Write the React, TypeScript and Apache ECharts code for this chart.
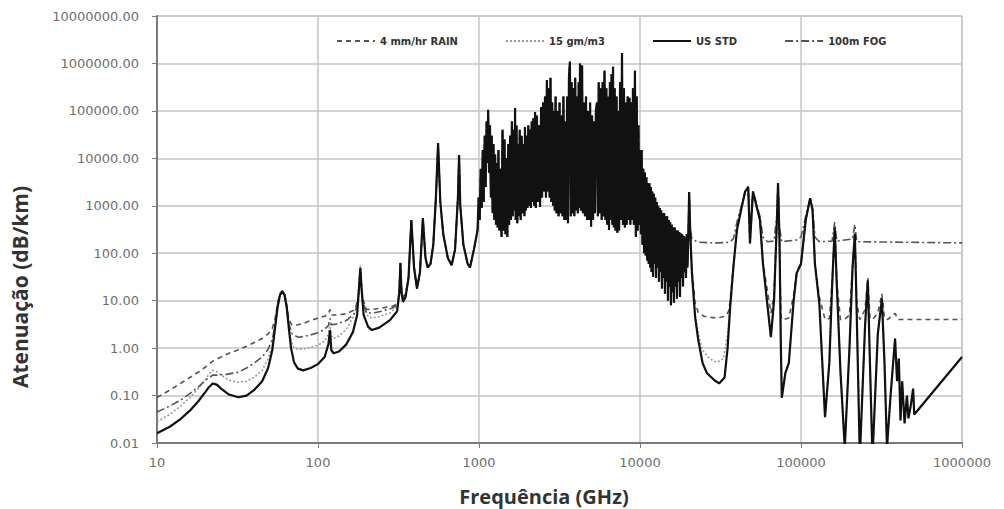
import React, { useEffect, useRef } from "react";
import * as echarts from "echarts";

const seriesNames = ["4 mm/hr RAIN", "15 gm/m3", "US STD", "100m FOG"];
const xTickLabels = ["10", "100", "1000", "10000", "100000", "1000000"];
const yTickLabels = ["0.01", "0.10", "1.00", "10.00", "100.00", "1000.00", "10000.00", "100000.00", "1000000.00", "10000000.00"];

// US standard atmosphere (frequency GHz, attenuation dB/km)
const usStd: number[][] = [
  [10, 0.016], [12, 0.022], [14, 0.032], [16, 0.048], [18, 0.075], [20, 0.12], [21, 0.15], [22.2, 0.18], [23.5, 0.17],
  [25, 0.14], [28, 0.105], [32, 0.092], [36, 0.1], [40, 0.13], [45, 0.2], [49, 0.38], [52, 0.9], [54, 2.5], [56, 7],
  [58, 13], [60, 15.5], [62, 13], [64, 7], [66, 2.5], [68, 1.0], [71, 0.5], [75, 0.37], [81, 0.34], [90, 0.38],
  [100, 0.46], [110, 0.65], [116, 1.2], [118.7, 2.4], [121, 0.9], [125, 0.78], [135, 0.85], [150, 1.2], [165, 2.2],
  [175, 5], [180, 20], [183.3, 48], [186, 20], [192, 5], [205, 2.8], [216, 2.4], [240, 2.7], [280, 3.9], [310, 6],
  [320, 15], [325, 62], [330, 15], [337, 9.4], [350, 12], [365, 30], [380, 500], [395, 50], [412, 18], [430, 40],
  [448, 550], [465, 80], [480, 50], [500, 60], [520, 150], [540, 1500], [557, 21000], [575, 1200], [600, 250],
  [640, 80], [676, 56], [710, 120], [740, 1500], [752, 11700], [765, 1000], [800, 150], [850, 60], [879, 50],
  [930, 120], [980, 310],
  [995, 1500], [1010, 500], [1025, 6000], [1040, 900], [1055, 15000], [1070, 1200], [1085, 30000], [1100, 2500],
  [1115, 60000], [1130, 8000], [1140, 105000], [1155, 5000], [1170, 50000], [1185, 1500], [1200, 30000], [1215, 700],
  [1230, 20000], [1245, 500], [1260, 12000], [1275, 400], [1290, 8000], [1305, 350],
  [1320, 15000], [1340, 300], [1360, 6000], [1380, 220], [1400, 40000], [1420, 300], [1440, 25000], [1460, 250],
  [1480, 10000], [1500, 220], [1520, 20000], [1540, 400], [1560, 30000], [1580, 500], [1600, 60000], [1620, 600],
  [1640, 40000], [1660, 800], [1675, 115000], [1690, 500], [1710, 50000], [1730, 430], [1750, 20000], [1770, 600],
  [1790, 40000], [1815, 500], [1840, 30000], [1865, 700], [1890, 20000], [1915, 600], [1930, 46000], [1950, 800],
  [1975, 30000], [2000, 900], [2025, 50000], [2050, 1000], [2075, 40000], [2100, 900], [2125, 60000], [2150, 1200],
  [2175, 70000], [2200, 1000], [2230, 95000],
  [2255, 900], [2290, 80000], [2325, 1200], [2360, 50000], [2395, 940], [2430, 120000], [2465, 1500], [2500, 150000],
  [2535, 2000], [2570, 200000], [2605, 1500], [2640, 450000], [2675, 2000], [2710, 300000], [2745, 1500],
  [2780, 500000], [2815, 1200], [2850, 150000], [2885, 1000], [2920, 100000], [2955, 800], [2990, 200000],
  [3030, 700], [3075, 100000], [3120, 600], [3165, 150000], [3210, 700], [3255, 80000], [3300, 600], [3345, 200000],
  [3390, 500], [3435, 60000], [3480, 500], [3525, 200000], [3570, 430], [3620, 500000], [3670, 1100000], [3715, 600],
  [3760, 400000], [3810, 700], [3860, 300000], [3910, 600], [3960, 500000], [4010, 800], [4060, 200000], [4110, 700],
  [4160, 400000], [4210, 900], [4240, 1000000], [4290, 800], [4340, 500000], [4370, 900000], [4420, 700],
  [4480, 150000], [4550, 600], [4620, 200000], [4690, 500], [4760, 100000], [4830, 500], [4900, 150000], [4970, 360],
  [5040, 80000], [5110, 500], [5180, 60000], [5250, 700], [5320, 100000], [5400, 150000], [5470, 600], [5540, 400000],
  [5620, 700], [5700, 300000], [5780, 500], [5860, 400000], [5940, 600], [6020, 700000], [6100, 500], [6180, 300000],
  [6260, 400], [6340, 200000], [6420, 310], [6500, 400000], [6580, 500], [6660, 600000], [6740, 400], [6800, 850000],
  [6880, 350], [6960, 300000],
  [7050, 300], [7150, 200000], [7240, 270], [7330, 100000], [7420, 300], [7520, 400000], [7620, 500], [7730, 1660000],
  [7840, 400], [7950, 300000], [8050, 350], [8160, 150000], [8270, 400], [8380, 200000], [8490, 500], [8600, 190000],
  [8710, 400], [8820, 150000], [8930, 500], [9040, 300000], [9150, 400], [9300, 700000], [9420, 220], [9540, 200000],
  [9660, 300], [9780, 50000], [9900, 400], [10000, 15000],
  [10120, 250], [10240, 15000], [10360, 150], [10480, 6000], [10600, 100], [10720, 5000], [10840, 90], [10960, 4000],
  [11080, 70], [11200, 3000], [11320, 60], [11440, 3000], [11560, 50], [11680, 2500], [11800, 40], [11920, 2000],
  [12050, 32], [12180, 1800], [12310, 60], [12440, 1500], [12570, 30], [12700, 1200], [12840, 50], [12980, 1000],
  [13120, 25], [13260, 900], [13400, 40], [13540, 800], [13690, 18], [13840, 700], [13990, 30], [14140, 700],
  [14290, 14], [14450, 600], [14600, 25], [14760, 600], [14920, 10], [15080, 500], [15240, 20], [15400, 450],
  [15570, 8], [15740, 400], [15910, 15], [16080, 350], [16250, 9], [16430, 350], [16610, 20], [16790, 300],
  [16970, 11], [17150, 300], [17340, 25], [17530, 280], [17720, 12], [17910, 260], [18100, 30], [18300, 250],
  [18500, 20], [18700, 230], [18900, 40], [19100, 220], [19300, 30], [19500, 250], [19700, 50], [19900, 150],
  [20200, 1950], [20500, 300], [21000, 40], [22000, 4.5], [23000, 1.5], [24500, 0.48], [26000, 0.3], [29000, 0.21],
  [31000, 0.18], [33500, 0.24], [35000, 1], [36300, 7.2], [38000, 50], [40000, 310], [43000, 1000], [45000, 2000],
  [47000, 2500], [48200, 160], [50300, 2000], [55600, 500], [58000, 62], [65000, 1.7], [68000, 10], [71000, 600],
  [72000, 3000], [73500, 200], [75000, 1], [76000, 0.09], [80000, 0.3], [84000, 0.48], [90000, 10], [94000, 38],
  [100000, 60], [107000, 500], [114000, 1450], [118000, 800], [122000, 60], [130000, 8.7], [141000, 0.035],
  [150000, 0.5], [156000, 20], [162000, 340], [167000, 20], [176000, 0.3], [187000, 0.008], [200000, 1], [209000, 50],
  [216000, 260], [222000, 5], [232000, 0.005], [250000, 3], [260000, 27], [268000, 0.5], [278000, 0.005], [300000, 2],
  [318000, 11], [330000, 0.5], [342000, 0.008], [360000, 0.1], [384000, 1.6], [395000, 0.2], [405000, 0.6],
  [415000, 0.03], [425000, 0.2], [440000, 0.026], [455000, 0.1], [465000, 0.033], [480000, 0.06], [497000, 0.14],
  [505000, 0.04], [1000000, 0.65],
];

const rainLow: number[][] = [
  [10, 0.091], [12, 0.13], [14, 0.18], [16, 0.24], [18, 0.31], [20, 0.4], [22, 0.52], [25, 0.65], [28, 0.78],
  [32, 0.92], [36, 1.1], [40, 1.3], [45, 1.6], [49, 2.0], [52, 2.6], [54, 4], [56, 8.5], [58, 14], [60, 16.5],
  [62, 14], [64, 8], [66, 4], [69, 3.0], [75, 3.1], [81, 3.3], [90, 3.8], [100, 4.3], [110, 4.7], [116, 5.2],
  [118.7, 6.5], [121, 5.0], [130, 5.0], [150, 5.3], [170, 6.5], [178, 12], [183.3, 50], [188, 12], [200, 6.5],
  [220, 6.6], [250, 7], [290, 7.6], [315, 9], [320, 18], [325, 63], [330, 18], [337, 12], [350, 14], [365, 31],
];
const rainHigh: number[][] = [
  [20200, 1950], [20500, 300], [21000, 45], [22000, 9], [23000, 5.6], [25000, 4.7], [28000, 4.4], [31000, 4.4],
  [34000, 4.7], [35500, 6], [36300, 10], [38000, 52], [40000, 310], [43000, 1000], [45000, 2000], [47000, 2500],
  [48200, 165], [50300, 2000], [55600, 500], [58000, 66], [65000, 5.5], [68000, 13], [71000, 600], [72000, 3000],
  [73500, 200], [75000, 5], [76000, 4], [80000, 4.1], [84000, 4.3], [90000, 13], [94000, 40], [100000, 62],
  [107000, 500], [114000, 1450], [118000, 800], [122000, 62], [130000, 12], [141000, 4], [150000, 4.2], [156000, 23],
  [162000, 340], [167000, 23], [176000, 4], [187000, 4], [200000, 5], [209000, 52], [216000, 260], [222000, 9],
  [232000, 4], [250000, 6.5], [260000, 30], [268000, 4.3], [278000, 4], [300000, 5.5], [318000, 14], [330000, 4.3],
  [345000, 4], [384000, 5.4], [400000, 4], [1000000, 4],
];

const vapLow: number[][] = [
  [10, 0.028], [12, 0.04], [14, 0.06], [16, 0.09], [18, 0.14], [20, 0.22], [21, 0.28], [22.2, 0.34], [23.5, 0.32],
  [25, 0.27], [28, 0.21], [32, 0.19], [36, 0.2], [40, 0.24], [45, 0.34], [49, 0.6], [52, 1.1], [54, 2.8], [56, 7.6],
  [58, 13.5], [60, 15.8], [62, 13.5], [64, 7.4], [66, 2.8], [68, 1.4], [71, 1.0], [75, 0.95], [81, 0.95], [90, 1.05],
  [100, 1.15], [110, 1.4], [116, 2.0], [118.7, 3.2], [121, 1.8], [125, 1.6], [135, 1.8], [150, 2.5], [165, 4.5],
  [175, 8], [180, 25], [183.3, 55], [186, 25], [192, 8], [205, 4.6], [216, 4.3], [240, 4.6], [280, 5.5], [310, 7.5],
  [320, 17], [325, 63], [330, 17], [337, 11], [350, 13], [365, 31],
];
const vapHigh: number[][] = [
  [22000, 5], [23000, 2], [24500, 0.9], [27000, 0.6], [30000, 0.5], [33000, 0.6], [35000, 2], [36300, 8],
];

const fogLow: number[][] = [
  [10, 0.045], [12, 0.06], [14, 0.08], [16, 0.11], [18, 0.15], [20, 0.21], [22.2, 0.27], [24, 0.27], [27, 0.28],
  [32, 0.31], [36, 0.38], [40, 0.48], [45, 0.65], [49, 0.95], [52, 1.5], [54, 3], [56, 8], [58, 13.8], [60, 16],
  [62, 13.8], [64, 7.8], [66, 3.2], [69, 2.0], [75, 1.7], [81, 1.75], [90, 1.9], [100, 2.1], [110, 2.5], [116, 3.0],
  [118.7, 4.2], [121, 3.1], [130, 3.2], [150, 3.8], [170, 5.5], [178, 11], [183.3, 49], [188, 11], [200, 5.5],
  [220, 5.5], [250, 6], [290, 7], [315, 8.5], [320, 17], [325, 62], [330, 17], [337, 11], [350, 13], [365, 31],
];
const fogHigh: number[][] = [
  [20200, 1950], [20500, 350], [21000, 200],
  [23000, 170], [30000, 165], [36000, 170], [38000, 200], [40000, 450], [43000, 1100], [45000, 2000], [47000, 2500],
  [48200, 300], [50300, 2000], [55600, 600], [58000, 220], [62000, 175], [68000, 180], [71000, 700], [72000, 3000],
  [73500, 350], [76000, 175], [94000, 190], [100000, 220], [107000, 600], [114000, 1450], [118000, 900],
  [122000, 220], [130000, 175], [156000, 180], [162000, 450], [167000, 180], [209000, 200], [216000, 400],
  [222000, 175], [1000000, 165],
];

const mid = (lo: number, hi: number) => usStd.filter(([f]) => f >= lo && f <= hi);

export default function App() {
  const ref = useRef<HTMLDivElement>(null);
  useEffect(() => {
    if (!ref.current) return;
    const chart = echarts.init(ref.current, undefined, { renderer: "svg" });
    const rain = [...rainLow, ...mid(380, 19900), ...rainHigh];
    const vap = [...vapLow, ...mid(380, 21000), ...vapHigh, ...mid(38000, 1e6)];
    const fog = [...fogLow, ...mid(380, 19900), ...fogHigh];
    const lineBase = { type: "line", showSymbol: false, symbol: "none", clip: true };
    chart.setOption({
      animation: false,
      backgroundColor: "#ffffff",
      grid: { left: 157, right: 42, top: 16, bottom: 66, show: true, borderColor: "#bdbdbd", borderWidth: 1 },
      legend: {
        left: 331,
        top: 31,
        itemWidth: 38,
        itemHeight: 10,
        itemGap: 47,
        itemStyle: { opacity: 0 },
        textStyle: { fontFamily: "DejaVu Sans", fontSize: 10, fontWeight: "bold", color: "#333" },
        data: seriesNames,
      },
      xAxis: {
        type: "log",
        logBase: 10,
        min: 10,
        max: 1000000,
        splitNumber: 5,
        axisLine: { show: true, lineStyle: { color: "#7a7a7a", width: 2 } },
        axisTick: { show: true, length: 5, lineStyle: { color: "#7a7a7a" } },
        axisLabel: {
          margin: 13,
          fontFamily: "DejaVu Sans",
          fontSize: 13,
          color: "#6f6f6f",
          formatter: (v: number) => xTickLabels[Math.round(Math.log10(v)) - 1] ?? "",
        },
        splitLine: { show: true, lineStyle: { color: "#c4c4c4", width: 1.5 } },
        minorTick: { show: false },
      },
      yAxis: {
        type: "log",
        logBase: 10,
        min: 0.01,
        max: 10000000,
        splitNumber: 9,
        axisLine: { show: true, lineStyle: { color: "#7a7a7a", width: 2 } },
        axisTick: { show: true, length: 5, lineStyle: { color: "#7a7a7a" } },
        axisLabel: {
          margin: 18,
          fontFamily: "DejaVu Sans",
          fontSize: 13,
          color: "#6f6f6f",
          formatter: (v: number) => yTickLabels[Math.round(Math.log10(v)) + 2] ?? "",
        },
        splitLine: { show: true, lineStyle: { color: "#c4c4c4", width: 1.5 } },
      },
      graphic: [
        {
          type: "text",
          x: 544,
          y: 496,
          style: {
            text: "Frequência (GHz)",
            font: "bold 20px 'Open Sans'",
            fill: "#333",
            textAlign: "center",
            textVerticalAlign: "middle",
          },
        },
        {
          type: "text",
          x: 20,
          y: 287,
          rotation: Math.PI / 2,
          style: {
            text: "Atenuação (dB/km)",
            font: "bold 21px 'Open Sans'",
            fill: "#333",
            textAlign: "center",
            textVerticalAlign: "middle",
          },
        },
      ],
      series: [
        { ...lineBase, name: seriesNames[0], data: rain, z: 2, lineStyle: { color: "#555", width: 1.6, type: [5, 4] }, itemStyle: { color: "#555" } },
        { ...lineBase, name: seriesNames[1], data: vap, z: 1, lineStyle: { color: "#9a9a9a", width: 1.6, type: [2, 2] }, itemStyle: { color: "#9a9a9a" } },
        { ...lineBase, name: seriesNames[2], data: usStd, z: 4, lineStyle: { color: "#111", width: 2.2, type: "solid" }, itemStyle: { color: "#111" } },
        { ...lineBase, name: seriesNames[3], data: fog, z: 3, lineStyle: { color: "#555", width: 1.6, type: [8, 3, 2, 3] }, itemStyle: { color: "#555" } },
      ],
    });
    return () => chart.dispose();
  }, []);
  return <div ref={ref} style={{ position: "fixed", left: 0, top: 0, width: 1004, height: 509 }} />;
}
